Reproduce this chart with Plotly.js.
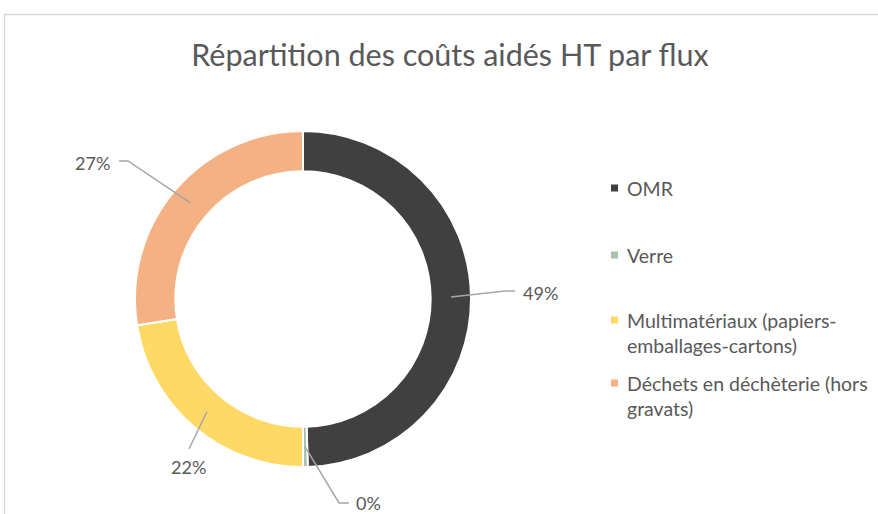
<!DOCTYPE html>
<html>
<head>
<meta charset="utf-8">
<script src="https://cdn.plot.ly/plotly-3.0.1.min.js"></script>
<style>
html,body{margin:0;padding:0;background:#fff;}
#chart{width:878px;height:514px;}
</style>
</head>
<body>
<div id="chart"></div>
<script>
// ---- data ----
const categories = ['OMR', 'Verre', 'Multimatériaux (papiers-emballages-cartons)', 'Déchets en déchèterie (hors gravats)'];
const values = [49.45, 0.45, 22.45, 27.45];
const pctLabels = ['49%', '0%', '22%', '27%'];
const colors = ['#404040', '#a9c2ad', '#ffd966', '#f4b183'];
const chartTitle = 'Répartition des coûts aidés HT par flux';

// ---- layout helpers ----
const W = 878, H = 514;
const px = x => x / W;
const py = y => 1 - y / H;
const cx = 303, cy = 299, R = 168;
const font = 'Lato, "Open Sans", sans-serif';
const grey = '#595959';

// label layout (elbow, end of leader, text anchor)
const labelLayout = [
  {ex: 505, ey: 291, tx: 515, ty: 291, ax: 521, ay: 293, xa: 'left'},
  {ex: 339, ey: 503, tx: 349, ty: 503, ax: 354, ay: 502.5, xa: 'left'},
  {ex: 189, ey: 449, tx: 189, ty: 449, ax: 188, ay: 467, xa: 'center'},
  {ex: 128, ey: 161, tx: 119, ty: 161, ax: 112, ay: 163, xa: 'right'}
];
const legendRows = [188, 255, 320, 383];
const legendLineH = 25.5;

function wrap(s, maxLen) {
  const tokens = s.match(/[^\s-]+-?|\s+/g);
  const lines = [];
  let cur = '';
  tokens.forEach(t => {
    if ((cur + t).length > maxLen && cur.trim().length) {
      lines.push(cur.trim());
      cur = t.trim();
    } else cur += t;
  });
  if (cur.trim().length) lines.push(cur.trim());
  return lines;
}

const total = values.reduce((a, b) => a + b, 0);
const annotations = [];
const shapes = [];

// frame
shapes.push({type: 'path', xref: 'paper', yref: 'paper',
  path: `M ${px(4.5)},${py(514)} L ${px(4.5)},${py(14.5)} L ${px(878)},${py(14.5)}`,
  line: {color: '#d9d9d9', width: 1.5}});

// data labels with leader lines
let cum = 0;
values.forEach((v, i) => {
  const mid = (cum + v / 2) / total;
  cum += v;
  const th = 2 * Math.PI * mid;
  const r = 148;
  const sx = cx + r * Math.sin(th), sy = cy - r * Math.cos(th);
  const L = labelLayout[i];
  shapes.push({type: 'path', xref: 'paper', yref: 'paper',
    path: `M ${px(sx)},${py(sy)} L ${px(L.ex)},${py(L.ey)} L ${px(L.tx)},${py(L.ty)}`,
    line: {color: '#a6a6a6', width: 1.5}});
  annotations.push({xref: 'paper', yref: 'paper', x: px(L.ax), y: py(L.ay),
    xanchor: L.xa, yanchor: 'middle', showarrow: false, text: pctLabels[i],
    font: {family: font, size: 18, color: grey}});
});

// legend
categories.forEach((c, i) => {
  const lines = wrap(c, 27);
  const y0 = legendRows[i];
  shapes.push({type: 'rect', xref: 'paper', yref: 'paper',
    x0: px(611), x1: px(618), y0: py(y0 - 3.5), y1: py(y0 + 3.5),
    fillcolor: colors[i], line: {width: 0}});
  lines.forEach((ln, k) => {
    annotations.push({xref: 'paper', yref: 'paper', x: px(625), y: py(y0 + k * legendLineH),
      xanchor: 'left', yanchor: 'middle', showarrow: false, text: ln,
      font: {family: font, size: 19.5, color: grey}});
  });
});

const data = [{
  type: 'pie',
  labels: categories,
  values: values,
  hole: 0.76,
  sort: false,
  direction: 'clockwise',
  rotation: 0,
  textinfo: 'none',
  marker: {colors: colors, line: {color: '#ffffff', width: 2}},
  domain: {x: [px(135), px(471)], y: [py(467), py(131)]},
  showlegend: false,
  hoverinfo: 'label+percent'
}];

const layout = {
  width: W, height: H,
  margin: {l: 0, r: 0, t: 0, b: 0},
  paper_bgcolor: '#ffffff',
  showlegend: false,
  title: {text: chartTitle, x: 450 / W, xanchor: 'center', y: py(55), yanchor: 'middle',
    font: {family: font, size: 30.5, color: grey}},
  annotations: annotations,
  shapes: shapes
};

Plotly.newPlot('chart', data, layout, {displayModeBar: false, staticPlot: true});
</script>
</body>
</html>
